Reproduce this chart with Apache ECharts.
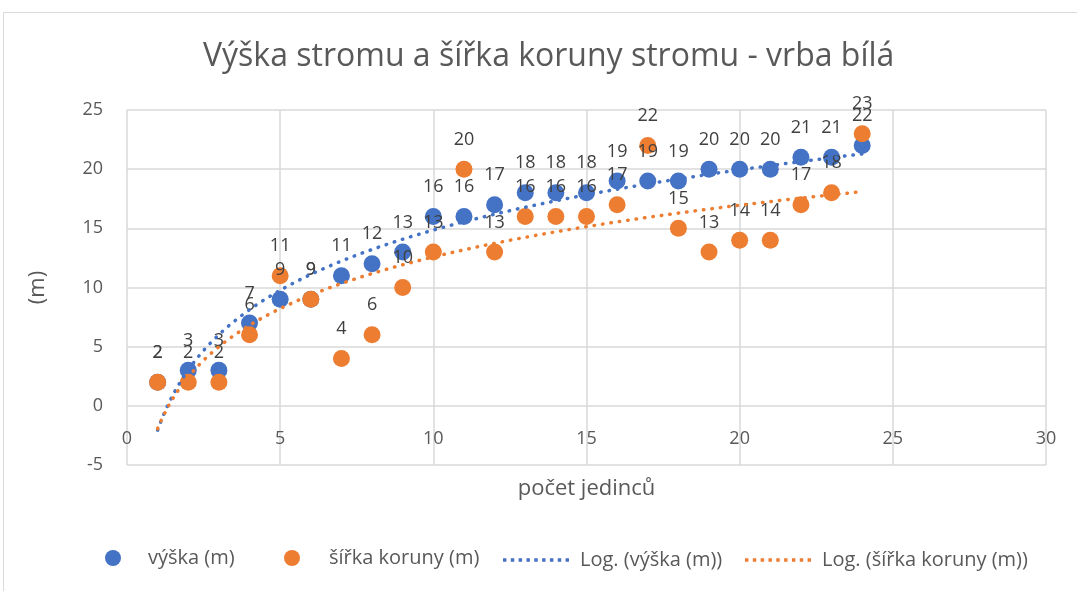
<!DOCTYPE html>
<html><head><meta charset="utf-8">
<script src="https://cdn.jsdelivr.net/npm/echarts@6/dist/echarts.min.js"></script>
<style>html,body{margin:0;padding:0;background:#fff}#c{width:1077px;height:591px}</style>
</head><body><div id="c"></div>
<script>
const title = 'Výška stromu a šířka koruny stromu - vrba bílá';
const xName = 'počet jedinců';
const yName = '(m)';
const seriesNames = ['výška (m)', 'šířka koruny (m)', 'Log. (výška (m))', 'Log. (šířka koruny (m))'];
const counts = [1,2,3,4,5,6,7,8,9,10,11,12,13,14,15,16,17,18,19,20,21,22,23,24];
const vyska  = [2,3,3,7,9,9,11,12,13,16,16,17,18,18,18,19,19,19,20,20,20,21,21,22];
const sirka  = [2,2,2,6,11,9,4,6,10,13,20,13,16,16,16,17,22,15,13,14,14,17,18,23];
const xTicks = {min:0, max:30, interval:5};
const yTicks = {min:-5, max:25, interval:5};

function logFit(xs, ys){
  const n = xs.length; let sl=0, sy=0, sll=0, sly=0;
  xs.forEach((x,i)=>{const l=Math.log(x); sl+=l; sy+=ys[i]; sll+=l*l; sly+=l*ys[i];});
  const b=(n*sly-sl*sy)/(n*sll-sl*sl); const a=(sy-b*sl)/n;
  const out=[]; const x0=xs[0], x1=xs[n-1];
  for(let k=0;k<=200;k++){const x=x0+(x1-x0)*k/200; out.push([x, a+b*Math.log(x)]);}
  return out;
}
const BLUE='#4472C4', ORANGE='#ED7D31', TXT='#595959', LBL='#404040', GRID='#D9D9D9';
const FONT='"Open Sans", "Noto Sans", sans-serif';
// dotted legend icon: row of small squares
let dots=''; for(let i=0;i<9;i++){dots+=`M${i*8},0h3.5v3.5h-3.5z`;}
const dotIcon='path://'+dots;
const chart = echarts.init(document.getElementById('c'));
const scatterLabel = {show:true, position:'top', distance:12, fontSize:18, color:LBL, fontFamily:FONT, formatter:p=>p.value[1]};
const legTxt = {fontSize:20, color:TXT, fontFamily:FONT};
function leg(name, left, top, icon, w, h, pad){
  return {data:[name], left:left, top:top, icon:icon, itemWidth:w, itemHeight:h,
    textStyle:Object.assign({padding:[0,0,0,pad]}, legTxt)};
}
const GL=127, GR=31, GT=110, GB=126;
const plotH = 591-GT-GB;
const zeroOffset = -plotH*(0-yTicks.min)/(yTicks.max-yTicks.min);
chart.setOption({
  animation:false,
  title:{text:title, left:198, top:36, textStyle:{fontSize:32, fontWeight:'normal', color:TXT, fontFamily:FONT}},
  graphic:[{type:'rect', shape:{x:3.5, y:12.5, width:1200, height:700}, style:{fill:'none', stroke:'#D9D9D9', lineWidth:1}, silent:true}],
  legend:[
    leg(seriesNames[0], 100, 543, 'circle', 16, 16, 22),
    leg(seriesNames[1], 279, 543, 'circle', 16, 16, 24),
    leg(seriesNames[2], 498, 545, dotIcon, 66, 3.5, 6),
    leg(seriesNames[3], 740, 545, dotIcon, 66, 3.5, 6)
  ],
  grid:{left:GL, right:GR, top:GT, bottom:GB},
  xAxis:{type:'value', min:xTicks.min, max:xTicks.max, interval:xTicks.interval, offset:zeroOffset,
    name:xName, nameLocation:'middle', nameGap:72, nameTextStyle:{fontSize:22, color:TXT, fontFamily:FONT},
    axisLine:{show:false, onZero:false}, axisTick:{show:false},
    axisLabel:{fontSize:18, color:TXT, fontFamily:FONT, margin:24},
    splitLine:{show:true, lineStyle:{color:GRID, width:1.5}}},
  yAxis:{type:'value', min:yTicks.min, max:yTicks.max, interval:yTicks.interval,
    name:yName, nameLocation:'middle', nameGap:78, nameTextStyle:{fontSize:22, color:TXT, fontFamily:FONT},
    axisLine:{show:false}, axisTick:{show:false},
    axisLabel:{fontSize:18, color:TXT, fontFamily:FONT, margin:24},
    splitLine:{show:true, lineStyle:{color:GRID, width:1.5}}},
  series:[
    {name:seriesNames[0], type:'scatter', symbolSize:17, itemStyle:{color:BLUE, opacity:1},
     data:counts.map((x,i)=>[x,vyska[i]]), label:scatterLabel, z:3},
    {name:seriesNames[1], type:'scatter', symbolSize:17, itemStyle:{color:ORANGE, opacity:1},
     data:counts.map((x,i)=>[x,sirka[i]]), label:scatterLabel, z:3},
    {name:seriesNames[2], type:'line', showSymbol:false, symbol:'none', data:logFit(counts,vyska),
     itemStyle:{color:BLUE}, lineStyle:{color:BLUE, width:3.5, type:[0.5,8], cap:'round'}, z:4},
    {name:seriesNames[3], type:'line', showSymbol:false, symbol:'none', data:logFit(counts,sirka),
     itemStyle:{color:ORANGE}, lineStyle:{color:ORANGE, width:3.5, type:[0.5,8], cap:'round'}, z:4}
  ]
});
</script></body></html>
